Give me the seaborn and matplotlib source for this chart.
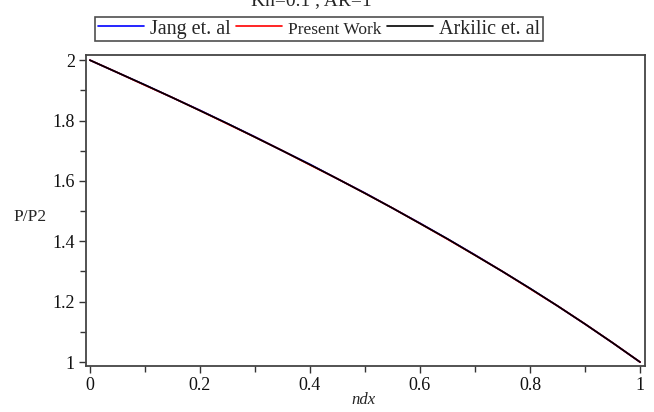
import numpy as np
import pandas as pd
import matplotlib
matplotlib.use("Agg")
import matplotlib.pyplot as plt
import seaborn as sns
from matplotlib.ticker import MultipleLocator
from matplotlib.lines import Line2D

# Data
ndx = [0.00, 0.05, 0.10, 0.15, 0.20, 0.25, 0.30, 0.35, 0.40, 0.45, 0.50,
       0.55, 0.60, 0.65, 0.70, 0.75, 0.80, 0.85, 0.90, 0.95, 1.00]
jang = [2.000, 1.959, 1.918, 1.876, 1.834, 1.790, 1.746, 1.700, 1.655, 1.607, 1.560,
        1.510, 1.460, 1.408, 1.355, 1.300, 1.244, 1.186, 1.126, 1.064, 1.000]
present = [2.000, 1.959, 1.917, 1.876, 1.833, 1.789, 1.745, 1.700, 1.653, 1.607, 1.559,
           1.510, 1.459, 1.407, 1.354, 1.300, 1.243, 1.186, 1.126, 1.064, 1.000]
arkilic = [2.000, 1.959, 1.918, 1.876, 1.833, 1.790, 1.745, 1.700, 1.654, 1.607, 1.559,
           1.510, 1.459, 1.408, 1.354, 1.300, 1.244, 1.186, 1.126, 1.064, 1.000]
series_names = ["Jang et. al", "Present Work", "Arkilic et. al"]
series_colors = ["#0000ff", "#ff0000", "#000000"]
x_ticks = [0, 0.2, 0.4, 0.6, 0.8, 1]
x_tick_labels = ["0", "0.2", "0.4", "0.6", "0.8", "1"]
y_ticks = [1, 1.2, 1.4, 1.6, 1.8, 2]
y_tick_labels = ["1", "1.2", "1.4", "1.6", "1.8", "2"]
title_text = "Kn=0.1 , AR=1"

sns.set_style("white")
plt.rcParams["font.family"] = ["Liberation Serif", "DejaVu Serif"]

df = pd.concat([
    pd.DataFrame({"ndx": ndx, "P/P2": vals, "series": name})
    for name, vals in zip(series_names, [jang, present, arkilic])
])

fig = plt.figure(figsize=(6.54, 4.12), dpi=100)
ax = fig.add_axes([86 / 654, 1 - 366 / 412, 559 / 654, 311 / 412])

sns.lineplot(data=df, x="ndx", y="P/P2", hue="series", hue_order=series_names,
             palette=series_colors, linewidth=1.2, ax=ax, legend=False)

ax.set_xlim(-0.007, 1.009)
ax.set_ylim(0.987, 2.017)
ax.set_xticks(x_ticks)
ax.set_xticklabels(x_tick_labels)
ax.set_yticks(y_ticks)
ax.set_yticklabels(y_tick_labels)
ax.xaxis.set_minor_locator(MultipleLocator(0.1))
ax.yaxis.set_minor_locator(MultipleLocator(0.1))
ax.tick_params(which="major", direction="out", length=5, width=1, color="#333333",
               labelsize=13, bottom=True, left=True, pad=3, labelcolor="#111111")
ax.tick_params(which="minor", direction="out", length=4, width=1, color="#333333",
               bottom=True, left=True)
for s in ax.spines.values():
    s.set_color("#444444")
    s.set_linewidth(1.3)

ax.set_xlabel("ndx", fontstyle="italic", fontsize=12)
ax.xaxis.set_label_coords(0.4955, -0.085)
ax.set_ylabel("P/P2", rotation=0, fontsize=12.5, ha="center", va="center")
ax.yaxis.set_label_coords(-0.1, 0.48)

handles = [Line2D([], [], color=c, linewidth=1.2) for c in series_colors]
leg = fig.legend(handles, series_names, loc="center", bbox_to_anchor=(319 / 654, 1 - 29 / 412),
                 ncol=3, fontsize=14.5, frameon=True, fancybox=False, handlelength=2.3,
                 handletextpad=0.3, columnspacing=0.25, borderpad=0.12, borderaxespad=0)
leg.get_texts()[1].set_fontsize(12.5)
leg.get_frame().set_edgecolor("#222222")
leg.get_frame().set_linewidth(1.2)

fig.text(311 / 654, 1 - 5 / 412, title_text, ha="center", va="baseline", fontsize=14)

fig.savefig("out.png", dpi=100)
